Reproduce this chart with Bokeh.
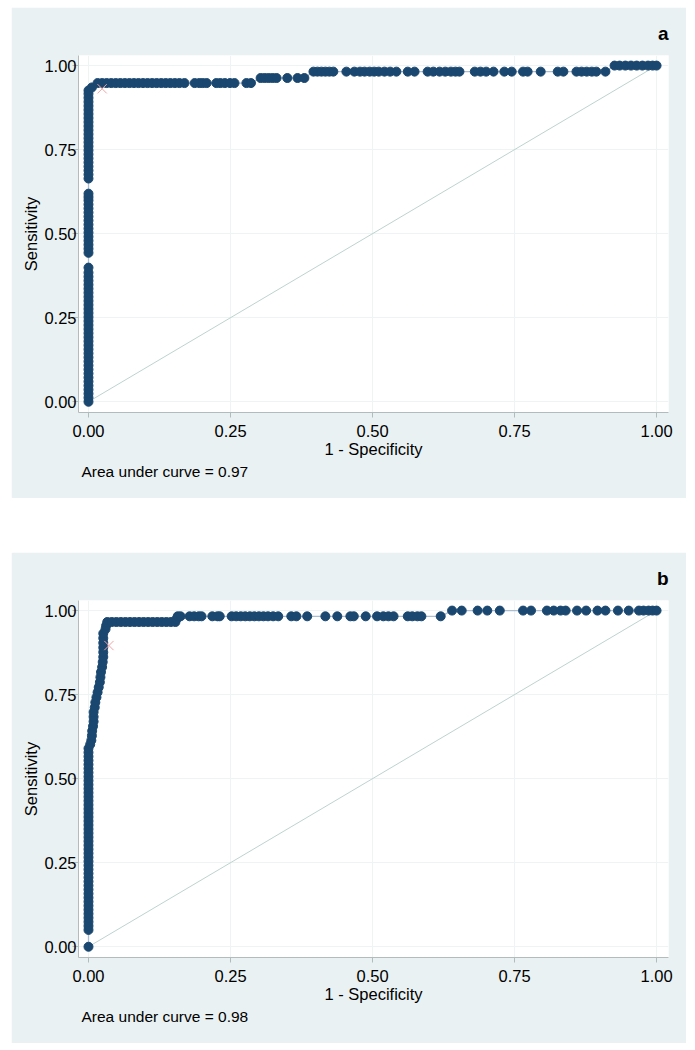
from bokeh.plotting import figure
from bokeh.layouts import column
from bokeh.models import FixedTicker, NumeralTickFormatter, Title
from bokeh.embed import file_html
from bokeh.resources import INLINE

# ---------------- data ----------------
ticks = [0.0, 0.25, 0.5, 0.75, 1.0]
diag = [0.0, 1.0]

# Panel a: ROC points (1 - specificity, sensitivity)
a_col_sens = [0.000, 0.012, 0.024, 0.036, 0.048, 0.060, 0.072, 0.084, 0.096, 0.108,
              0.120, 0.132, 0.144, 0.156, 0.168, 0.180, 0.192, 0.204, 0.216, 0.228,
              0.240, 0.252, 0.264, 0.276, 0.288, 0.300, 0.312, 0.324, 0.336, 0.348,
              0.360, 0.372, 0.384, 0.399,
              0.443, 0.455, 0.467, 0.479, 0.491, 0.503, 0.515, 0.527, 0.539, 0.551,
              0.563, 0.575, 0.587, 0.599, 0.609, 0.619,
              0.664, 0.676, 0.688, 0.700, 0.712, 0.724, 0.736, 0.748, 0.760, 0.772,
              0.784, 0.796, 0.808, 0.820, 0.832, 0.844, 0.856, 0.868, 0.880, 0.892,
              0.904, 0.916, 0.926]
a_corner = (0.006, 0.935)
a_row1_fpr = [0.016, 0.024, 0.032, 0.040, 0.048, 0.056, 0.064, 0.072, 0.080, 0.088,
              0.096, 0.104, 0.112, 0.120, 0.128, 0.136, 0.144, 0.152, 0.160, 0.169,
              0.187, 0.195, 0.201, 0.208, 0.225, 0.232, 0.240, 0.249, 0.257, 0.278, 0.286]
a_row1_sens = 0.948
a_row2_fpr = [0.303, 0.310, 0.317, 0.324, 0.331, 0.350, 0.368, 0.380]
a_row2_sens = 0.963
a_row3_fpr = [0.396, 0.403, 0.410, 0.417, 0.424, 0.431, 0.454, 0.468, 0.478, 0.486,
              0.495, 0.503, 0.511, 0.521, 0.531, 0.542, 0.562, 0.574, 0.597, 0.607,
              0.618, 0.628, 0.638, 0.646, 0.653, 0.680, 0.690, 0.700, 0.713, 0.732,
              0.745, 0.765, 0.773, 0.796, 0.826, 0.836, 0.859, 0.868, 0.877, 0.886,
              0.894, 0.910]
a_row3_sens = 0.982
a_row4_fpr = [0.926, 0.935, 0.945, 0.955, 0.965, 0.975, 0.985, 0.993, 1.000]
a_row4_sens = 1.000
a_cut = (0.024, 0.931)
a_auc = "Area under curve = 0.97"

# Panel b
b_col_sens = [0.000, 0.050, 0.062, 0.074, 0.086, 0.098, 0.110, 0.122, 0.134, 0.146,
              0.158, 0.170, 0.182, 0.194, 0.206, 0.218, 0.230, 0.242, 0.254, 0.266,
              0.278, 0.290, 0.302, 0.314, 0.326, 0.338, 0.350, 0.362, 0.374, 0.386,
              0.398, 0.410, 0.422, 0.434, 0.446, 0.458, 0.470, 0.482, 0.494, 0.506,
              0.518, 0.530, 0.542, 0.554, 0.566, 0.578, 0.590]
b_steep_fpr = [0.003, 0.005, 0.006, 0.0065, 0.008, 0.009, 0.009, 0.009, 0.011, 0.012,
               0.014, 0.016, 0.018, 0.020, 0.021, 0.022, 0.024, 0.025, 0.026, 0.026,
               0.026, 0.026, 0.026, 0.026, 0.030, 0.031]
b_steep_sens = [0.602, 0.614, 0.628, 0.642, 0.656, 0.670, 0.684, 0.698, 0.712, 0.727,
                0.742, 0.757, 0.772, 0.787, 0.802, 0.817, 0.832, 0.847, 0.862, 0.876,
                0.890, 0.904, 0.918, 0.932, 0.945, 0.955]
b_row1_fpr = [0.033, 0.041, 0.049, 0.057, 0.065, 0.073, 0.081, 0.089, 0.097, 0.105,
              0.113, 0.121, 0.129, 0.137, 0.145, 0.153]
b_row1_sens = 0.966
b_corner = (0.155, 0.975)
b_row2_fpr = [0.157, 0.162, 0.178, 0.186, 0.194, 0.199, 0.218, 0.227, 0.231, 0.252,
              0.260, 0.268, 0.276, 0.284, 0.292, 0.300, 0.308, 0.316, 0.325, 0.334,
              0.357, 0.366, 0.385, 0.417, 0.438, 0.461, 0.467, 0.488, 0.508, 0.519,
              0.528, 0.537, 0.562, 0.570, 0.579, 0.586, 0.620]
b_row2_sens = 0.983
b_row3_fpr = [0.640, 0.657, 0.685, 0.702, 0.724, 0.765, 0.779, 0.807, 0.819, 0.831,
              0.840, 0.860, 0.876, 0.896, 0.910, 0.932, 0.951, 0.969, 0.977, 0.986,
              0.993, 1.000]
b_row3_sens = 1.000
b_cut = (0.036, 0.896)
b_auc = "Area under curve = 0.98"

# ---------------- assemble curves ----------------
a_fpr = [0.0] * len(a_col_sens) + [a_corner[0]]
a_sens = list(a_col_sens) + [a_corner[1]]
for xs, lvl in [(a_row1_fpr, a_row1_sens), (a_row2_fpr, a_row2_sens),
                (a_row3_fpr, a_row3_sens), (a_row4_fpr, a_row4_sens)]:
    a_fpr += xs
    a_sens += [lvl] * len(xs)

b_fpr = [0.0] * len(b_col_sens) + b_steep_fpr + b_row1_fpr + [b_corner[0]]
b_sens = list(b_col_sens) + b_steep_sens + [b_row1_sens] * len(b_row1_fpr) + [b_corner[1]]
for xs, lvl in [(b_row2_fpr, b_row2_sens), (b_row3_fpr, b_row3_sens)]:
    b_fpr += xs
    b_sens += [lvl] * len(xs)

FONT = "Liberation Sans"
BG = "#EAF1F2"
AX = "#B3BCBC"
FS = "16.5px"


def make_panel(fpr, sens, cut, letter, auc):
    p = figure(width=675, height=491, x_range=(-0.0176, 1.021), y_range=(-0.032, 1.030),
               output_backend="svg", toolbar_location=None,
               min_border_left=67, min_border_right=18, min_border_top=48, min_border_bottom=86,
               background_fill_color="white", border_fill_color=BG,
               outline_line_color=None)
    p.title = Title(text=letter, align="right", text_font=FONT, text_font_style="bold",
                    text_font_size="19px", text_color="black", standoff=24)
    p.xgrid.ticker = FixedTicker(ticks=ticks)
    p.ygrid.ticker = FixedTicker(ticks=ticks)
    p.grid.grid_line_color = "#EEF3F3"
    p.grid.grid_line_width = 1

    for ax in (p.xaxis, p.yaxis):
        ax.ticker = FixedTicker(ticks=ticks)
        ax.formatter = NumeralTickFormatter(format="0.00")
        ax.axis_line_color = AX
        ax.major_tick_line_color = AX
        ax.minor_tick_line_color = None
        ax.major_tick_in = 0
        ax.major_label_text_font = FONT
        ax.major_label_text_font_size = FS
        ax.major_label_text_color = "black"
        ax.axis_label_text_font = FONT
        ax.axis_label_text_font_size = FS
        ax.axis_label_text_font_style = "normal"
        ax.axis_label_text_color = "black"
    p.xaxis.major_tick_out = 5
    p.xaxis.major_label_standoff = 7
    p.xaxis.axis_label = "1 - Specificity"
    p.xaxis.axis_label_standoff = 0
    p.yaxis.major_tick_out = 6
    p.yaxis.major_label_standoff = -4
    p.yaxis.axis_label = "Sensitivity"
    p.yaxis.axis_label_standoff = 1

    p.line(diag, diag, line_color="#BDD3CF", line_width=1)
    p.line(fpr, sens, line_color="#A9BED3", line_width=1.3)
    p.scatter(fpr, sens, size=9, fill_color="#1A476F", line_color="#1A476F")
    p.scatter([cut[0]], [cut[1]], marker="x", size=13, line_color="#F4A3A3", line_width=1)

    p.add_layout(Title(text=auc, align="left", offset=3, text_font=FONT,
                       text_font_style="normal", text_font_size="15.5px",
                       text_color="black", standoff=0), "below")
    return p


pa = make_panel(a_fpr, a_sens, a_cut, "a", a_auc)
pb = make_panel(b_fpr, b_sens, b_cut, "b", b_auc)

layout = column(pa, pb, spacing=54, margin=(7, 0, 0, 11))
open("out.html", "w").write(file_html(layout, INLINE))
